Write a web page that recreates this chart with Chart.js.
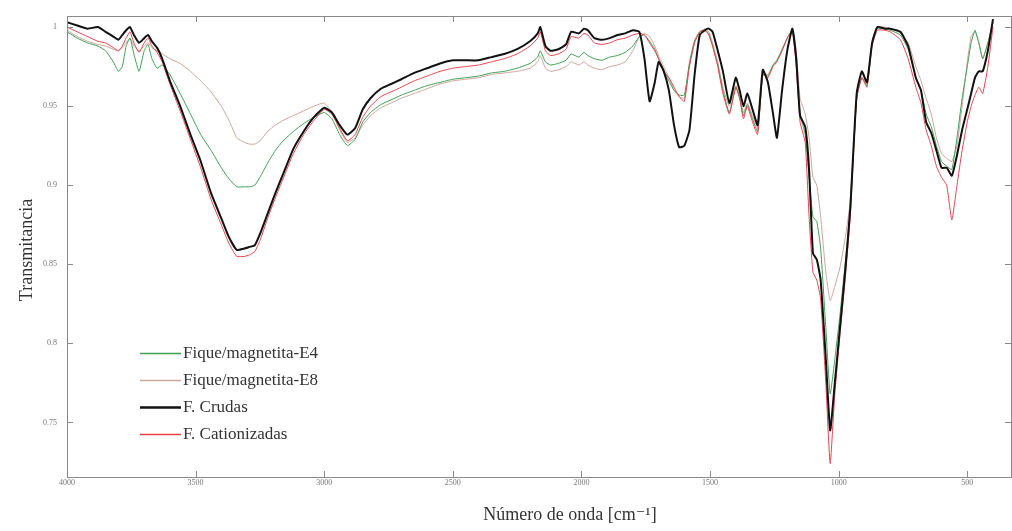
<!DOCTYPE html>
<html>
<head>
<meta charset="utf-8">
<script src="https://cdn.jsdelivr.net/npm/chart.js@4.4.1/dist/chart.umd.min.js"></script>
<style>
  html, body { margin: 0; padding: 0; background: #fff; }
  #wrap { width: 1012px; height: 531px; }
</style>
</head>
<body>
<div id="wrap"><canvas id="ftir"></canvas></div>
<script>
// Espectros FTIR: transmitancia vs número de onda

const ondas = [
  4000, 3960, 3920, 3880, 3850, 3820, 3800, 3785, 3770, 3755,
  3740, 3720, 3700, 3685, 3670, 3650, 3630, 3600, 3560, 3520,
  3480, 3440, 3400, 3370, 3340, 3310, 3290, 3270, 3250, 3220,
  3190, 3160, 3120, 3080, 3040, 3000, 2970, 2940, 2910, 2880,
  2850, 2820, 2780, 2740, 2700, 2650, 2600, 2550, 2500, 2450,
  2400, 2350, 2300, 2250, 2200, 2170, 2160, 2140, 2120, 2090,
  2060, 2040, 2010, 1990, 1975, 1950, 1920, 1890, 1860, 1830,
  1800, 1775, 1755, 1735, 1715, 1700, 1680, 1660, 1640, 1620,
  1600, 1580, 1560, 1540, 1520, 1505, 1490, 1470, 1450, 1425,
  1400, 1385, 1370, 1355, 1335, 1315, 1295, 1275, 1255, 1240,
  1220, 1200, 1180, 1165, 1150, 1130, 1115, 1100, 1085, 1070,
  1050, 1033, 1015, 995, 975, 955, 930, 910, 890, 870,
  850, 820, 800, 760, 730, 700, 680, 660, 640, 620,
  600, 580, 560, 540, 520, 500, 485, 470, 455, 440,
  420, 400
];

const fiqueE4 = [
  0.997, 0.993, 0.990, 0.988, 0.985, 0.978, 0.972, 0.975, 0.988, 0.993,
  0.983, 0.972, 0.985, 0.989, 0.980, 0.974, 0.976, 0.970, 0.958, 0.945,
  0.932, 0.922, 0.911, 0.904, 0.899, 0.899, 0.899, 0.900, 0.905, 0.914,
  0.922, 0.928, 0.934, 0.939, 0.943, 0.946, 0.942, 0.932, 0.925, 0.929,
  0.940, 0.946, 0.951, 0.954, 0.957, 0.960, 0.963, 0.965, 0.967, 0.968,
  0.969, 0.971, 0.972, 0.974, 0.977, 0.981, 0.985, 0.978, 0.976, 0.977,
  0.979, 0.983, 0.981, 0.984, 0.982, 0.980, 0.979, 0.981, 0.982, 0.984,
  0.988, 0.994, 0.995, 0.991, 0.986, 0.980, 0.973, 0.966, 0.960, 0.957,
  0.957, 0.977, 0.991, 0.997, 0.998, 0.996, 0.988, 0.976, 0.960, 0.946,
  0.962, 0.955, 0.944, 0.951, 0.942, 0.934, 0.970, 0.969, 0.976, 0.979,
  0.986, 0.993, 0.998, 0.978, 0.945, 0.932, 0.905, 0.880, 0.877, 0.860,
  0.810, 0.768, 0.790, 0.818, 0.850, 0.885, 0.955, 0.968, 0.963, 0.990,
  0.999, 0.999, 0.998, 0.995, 0.986, 0.968, 0.960, 0.945, 0.937, 0.925,
  0.915, 0.912, 0.910, 0.930, 0.955, 0.975, 0.990, 0.998, 0.990, 0.980,
  0.990, 1.003
];

const fiqueE8 = [
  0.998, 0.994, 0.991, 0.989, 0.988, 0.986, 0.985, 0.987, 0.990, 0.993,
  0.988, 0.985, 0.988, 0.990, 0.987, 0.985, 0.983, 0.980, 0.977, 0.972,
  0.966, 0.959, 0.950, 0.941, 0.930, 0.927, 0.926, 0.926, 0.928, 0.934,
  0.938, 0.941, 0.944, 0.947, 0.950, 0.952, 0.946, 0.935, 0.927, 0.930,
  0.938, 0.944, 0.949, 0.952, 0.955, 0.958, 0.961, 0.964, 0.966, 0.967,
  0.968, 0.970, 0.971, 0.972, 0.974, 0.978, 0.982, 0.974, 0.972, 0.973,
  0.975, 0.978, 0.976, 0.978, 0.976, 0.974, 0.973, 0.975, 0.976, 0.978,
  0.985, 0.994, 0.996, 0.994, 0.988, 0.982, 0.975, 0.968, 0.960, 0.956,
  0.955, 0.978, 0.992, 0.997, 0.999, 0.997, 0.990, 0.978, 0.962, 0.950,
  0.963, 0.957, 0.946, 0.952, 0.944, 0.936, 0.970, 0.970, 0.976, 0.979,
  0.985, 0.993, 0.998, 0.985, 0.955, 0.945, 0.930, 0.905, 0.900, 0.880,
  0.845, 0.827, 0.836, 0.848, 0.866, 0.890, 0.955, 0.968, 0.965, 0.990,
  1.000, 1.000, 0.999, 0.996, 0.990, 0.975, 0.966, 0.955, 0.945, 0.930,
  0.920, 0.917, 0.915, 0.925, 0.950, 0.978, 0.994, 0.997, 0.990, 0.980,
  0.990, 1.003
];

const crudas = [
  1.003, 1.001, 0.999, 1.000, 0.997, 0.994, 0.992, 0.995, 0.998, 1.000,
  0.995, 0.990, 0.993, 0.995, 0.991, 0.987, 0.980, 0.966, 0.950, 0.932,
  0.915, 0.895, 0.879, 0.867, 0.859, 0.860, 0.861, 0.862, 0.869, 0.882,
  0.895, 0.907, 0.923, 0.934, 0.943, 0.949, 0.946, 0.938, 0.932, 0.936,
  0.948, 0.955, 0.961, 0.964, 0.967, 0.971, 0.974, 0.977, 0.979, 0.979,
  0.979, 0.981, 0.983, 0.986, 0.991, 0.996, 1.000, 0.988, 0.985, 0.986,
  0.989, 0.997, 0.996, 0.999, 0.998, 0.993, 0.992, 0.993, 0.995, 0.996,
  0.998, 0.997, 0.980, 0.953, 0.965, 0.978, 0.972, 0.960, 0.938, 0.924,
  0.925, 0.935, 0.970, 0.995, 0.998, 0.999, 0.997, 0.985, 0.972, 0.952,
  0.968, 0.960, 0.950, 0.958, 0.948, 0.938, 0.973, 0.965, 0.945, 0.930,
  0.960, 0.985, 0.999, 0.980, 0.944, 0.937, 0.910, 0.857, 0.853, 0.840,
  0.790, 0.745, 0.775, 0.810, 0.845, 0.885, 0.958, 0.972, 0.965, 0.990,
  1.000, 0.999, 0.999, 0.997, 0.988, 0.968, 0.960, 0.940, 0.933, 0.922,
  0.911, 0.911, 0.906, 0.919, 0.935, 0.948, 0.958, 0.968, 0.972, 0.972,
  0.985, 1.005
];

const cationizadas = [
  1.000, 0.997, 0.994, 0.991, 0.990, 0.987, 0.985, 0.988, 0.993, 0.997,
  0.990, 0.984, 0.990, 0.993, 0.988, 0.984, 0.978, 0.964, 0.947, 0.929,
  0.911, 0.891, 0.875, 0.863, 0.855, 0.855, 0.856, 0.858, 0.865, 0.879,
  0.892, 0.904, 0.920, 0.932, 0.941, 0.948, 0.945, 0.936, 0.928, 0.932,
  0.943, 0.950, 0.956, 0.959, 0.962, 0.966, 0.969, 0.972, 0.974, 0.975,
  0.976, 0.978, 0.980, 0.983, 0.988, 0.993, 0.997, 0.985, 0.982, 0.983,
  0.986, 0.994, 0.993, 0.996, 0.995, 0.990, 0.989, 0.990, 0.992, 0.993,
  0.995, 0.996, 0.995, 0.990, 0.985, 0.980, 0.972, 0.968, 0.962, 0.956,
  0.953, 0.975, 0.990, 0.997, 0.998, 0.995, 0.988, 0.975, 0.958, 0.945,
  0.962, 0.955, 0.942, 0.950, 0.940, 0.932, 0.970, 0.968, 0.975, 0.978,
  0.985, 0.993, 0.998, 0.975, 0.940, 0.927, 0.880, 0.845, 0.840, 0.828,
  0.775, 0.724, 0.768, 0.805, 0.840, 0.880, 0.955, 0.968, 0.962, 0.988,
  0.998, 0.998, 0.997, 0.992, 0.980, 0.962, 0.952, 0.935, 0.925, 0.912,
  0.905, 0.900, 0.878, 0.900, 0.922, 0.940, 0.950, 0.957, 0.962, 0.958,
  0.975, 1.000
];

const marcasX = [4000, 3500, 3000, 2500, 2000, 1500, 1000, 500];
const marcasY = [1, 0.95, 0.9, 0.85, 0.8, 0.75];

const series = [
  { label: 'Fique/magnetita-E4', valores: fiqueE4, color: '#3f9f52', ancho: 1, orden: 2 },
  { label: 'Fique/magnetita-E8', valores: fiqueE8, color: '#cca59c', ancho: 1, orden: 3 },
  { label: 'F. Crudas', valores: crudas, color: '#111111', ancho: 2, orden: 0 },
  { label: 'F. Cationizadas', valores: cationizadas, color: '#e8424c', ancho: 1, orden: 1 }
];

const SERIF = '"Liberation Serif", "DejaVu Serif", serif';

// marco, marcas hacia dentro, títulos de ejes y leyenda
const marco = {
  id: 'marco',
  afterDraw(chart) {
    const { ctx, chartArea: a, scales } = chart;
    ctx.save();
    ctx.strokeStyle = '#8a8a8a';
    ctx.lineWidth = 1;
    ctx.strokeRect(a.left + 0.5, a.top + 0.5, a.right - a.left, a.bottom - a.top);

    ctx.beginPath();
    marcasX.forEach(v => {
      const x = Math.round(scales.x.getPixelForValue(v)) + 0.5;
      ctx.moveTo(x, a.bottom); ctx.lineTo(x, a.bottom - 6);
      ctx.moveTo(x, a.top); ctx.lineTo(x, a.top + 6);
    });
    marcasY.forEach(v => {
      const y = Math.round(scales.y.getPixelForValue(v)) + 0.5;
      ctx.moveTo(a.left, y); ctx.lineTo(a.left + 6, y);
      ctx.moveTo(a.right, y); ctx.lineTo(a.right - 6, y);
    });
    ctx.stroke();

    // títulos
    ctx.fillStyle = '#333';
    ctx.font = '18px ' + SERIF;
    ctx.textAlign = 'center';
    ctx.textBaseline = 'middle';
    ctx.fillText('Número de onda [cm⁻¹]', 570, 515);
    ctx.save();
    ctx.translate(27, 250);
    ctx.rotate(-Math.PI / 2);
    ctx.fillText('Transmitancia', 0, 0);
    ctx.restore();

    // leyenda
    ctx.font = '17px ' + SERIF;
    ctx.textAlign = 'left';
    series.forEach((s, i) => {
      const y = 353 + i * 27;
      ctx.strokeStyle = s.color;
      ctx.lineWidth = s.ancho + 0.5;
      ctx.beginPath();
      ctx.moveTo(140, y + 0.5);
      ctx.lineTo(181, y + 0.5);
      ctx.stroke();
      ctx.fillStyle = '#333';
      ctx.fillText(s.label, 183, y + 1);
    });
    ctx.restore();
  }
};

new Chart(document.getElementById('ftir'), {
  type: 'line',
  data: {
    datasets: series.map(s => ({
      label: s.label,
      data: ondas.map((x, i) => ({ x: x, y: s.valores[i] })),
      borderColor: s.color,
      borderWidth: s.ancho,
      pointRadius: 0,
      tension: 0.15,
      fill: false,
      order: s.orden
    }))
  },
  options: {
    responsive: true,
    maintainAspectRatio: false,
    animation: false,
    layout: { padding: { top: 16, right: 1, bottom: 0, left: 0 } },
    plugins: {
      legend: { display: false },
      tooltip: { enabled: false }
    },
    scales: {
      x: {
        type: 'linear',
        reverse: true,
        min: 330,
        max: 4000,
        grid: { display: false },
        border: { display: false },
        afterBuildTicks: sc => { sc.ticks = marcasX.map(v => ({ value: v })); },
        afterFit: sc => { sc.height = 54; },
        ticks: {
          padding: -7,
          maxRotation: 0,
          color: '#777',
          font: { family: SERIF, size: 8 },
          callback: v => String(v)
        }
      },
      y: {
        type: 'linear',
        min: 0.7155,
        max: 1.007,
        grid: { display: false },
        border: { display: false },
        afterBuildTicks: sc => { sc.ticks = marcasY.map(v => ({ value: v })); },
        afterFit: sc => { sc.width = 67; },
        ticks: {
          padding: 2,
          color: '#777',
          font: { family: SERIF, size: 8 },
          callback: v => String(Number(v.toFixed(2)))
        }
      }
    }
  },
  plugins: [marco]
});
</script>
</body>
</html>
